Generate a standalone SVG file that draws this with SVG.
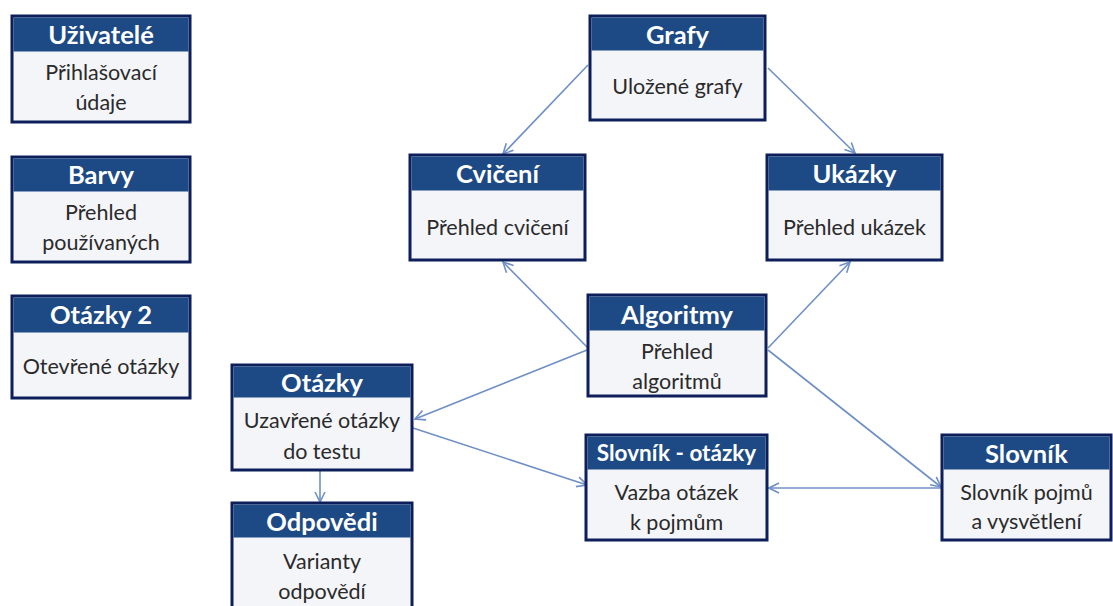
<svg xmlns="http://www.w3.org/2000/svg" width="1113" height="606" viewBox="0 0 1113 606">
  <style>
    .box { fill: #f4f5f9; stroke: #0d1e5a; stroke-width: 3; }
    .hdr { fill: #1d4a85; }
    .title { font-family: Lato, "Open Sans", "Noto Sans", sans-serif; font-weight: bold; font-size: 25.5px; fill: #ffffff; text-anchor: middle; }
    .title.small { font-size: 22.5px; }
    .body { font-family: Lato, "Open Sans", "Noto Sans", sans-serif; font-size: 21.5px; fill: #2a2a2a; text-anchor: middle; }
    .link { fill: none; stroke: #6f8fc8; stroke-width: 1.6; }
  </style>
  <defs>
    <marker id="arrow" viewBox="0 0 12 12" refX="11" refY="6" markerWidth="12" markerHeight="12" markerUnits="userSpaceOnUse" orient="auto">
      <path d="M1,1 L11,6 L1,11" fill="none" stroke="#6f8fc8" stroke-width="1.6"/>
    </marker>
  </defs>
  <rect width="1113" height="606" fill="#ffffff"/>

  <g id="connectors">
    <line class="link" x1="588" y1="65" x2="503" y2="154" marker-end="url(#arrow)"/>
    <line class="link" x1="768" y1="68" x2="855" y2="153" marker-end="url(#arrow)"/>
    <line class="link" x1="588" y1="348" x2="503" y2="262" marker-end="url(#arrow)"/>
    <line class="link" x1="768" y1="348" x2="850" y2="262" marker-end="url(#arrow)"/>
    <line class="link" x1="587" y1="350" x2="415" y2="419" marker-end="url(#arrow)"/>
    <line class="link" x1="413" y1="428" x2="587" y2="485" marker-end="url(#arrow)"/>
    <line class="link" x1="768" y1="350" x2="941" y2="487" marker-end="url(#arrow)"/>
    <line class="link" x1="941" y1="488" x2="769" y2="488" marker-end="url(#arrow)"/>
    <line class="link" x1="320" y1="471" x2="320" y2="502" marker-end="url(#arrow)"/>
  </g>

  <g id="uzivatele">
    <rect class="box" x="12" y="16" width="178" height="106"/>
    <rect class="hdr" x="13.5" y="17.5" width="175" height="34"/>
    <text class="title" x="101" y="44">Uživatelé</text>
    <text class="body" x="101" y="80">Přihlašovací</text>
    <text class="body" x="101" y="110">údaje</text>
  </g>

  <g id="barvy">
    <rect class="box" x="12" y="157" width="178" height="105"/>
    <rect class="hdr" x="13.5" y="158.5" width="175" height="33"/>
    <text class="title" x="101" y="184">Barvy</text>
    <text class="body" x="101" y="220">Přehled</text>
    <text class="body" x="101" y="250">používaných</text>
  </g>

  <g id="otazky2">
    <rect class="box" x="12" y="296" width="178" height="102"/>
    <rect class="hdr" x="13.5" y="297.5" width="175" height="35"/>
    <text class="title" x="101" y="324">Otázky 2</text>
    <text class="body" x="101" y="374">Otevřené otázky</text>
  </g>

  <g id="grafy">
    <rect class="box" x="590" y="16" width="175" height="104"/>
    <rect class="hdr" x="591.5" y="17.5" width="172" height="33"/>
    <text class="title" x="677.5" y="44">Grafy</text>
    <text class="body" x="677.5" y="94">Uložené grafy</text>
  </g>

  <g id="cviceni">
    <rect class="box" x="410" y="155" width="175" height="105"/>
    <rect class="hdr" x="411.5" y="156.5" width="172" height="34"/>
    <text class="title" x="497.5" y="183">Cvičení</text>
    <text class="body" x="497.5" y="235">Přehled cvičení</text>
  </g>

  <g id="ukazky">
    <rect class="box" x="767" y="155" width="175" height="105"/>
    <rect class="hdr" x="768.5" y="156.5" width="172" height="34"/>
    <text class="title" x="854.5" y="183">Ukázky</text>
    <text class="body" x="854.5" y="235">Přehled ukázek</text>
  </g>

  <g id="algoritmy">
    <rect class="box" x="588" y="295" width="178" height="101"/>
    <rect class="hdr" x="589.5" y="296.5" width="175" height="34"/>
    <text class="title" x="677" y="324">Algoritmy</text>
    <text class="body" x="677" y="359">Přehled</text>
    <text class="body" x="677" y="389">algoritmů</text>
  </g>

  <g id="otazky">
    <rect class="box" x="232" y="365" width="180" height="105"/>
    <rect class="hdr" x="233.5" y="366.5" width="177" height="31"/>
    <text class="title" x="322" y="392">Otázky</text>
    <text class="body" x="322" y="428">Uzavřené otázky</text>
    <text class="body" x="322" y="459">do testu</text>
  </g>

  <g id="odpovedi">
    <rect class="box" x="232" y="503" width="180" height="110"/>
    <rect class="hdr" x="233.5" y="504.5" width="177" height="33"/>
    <text class="title" x="322" y="531">Odpovědi</text>
    <text class="body" x="322" y="569">Varianty</text>
    <text class="body" x="322" y="599">odpovědí</text>
  </g>

  <g id="slovnik-otazky">
    <rect class="box" x="586" y="435" width="181" height="105"/>
    <rect class="hdr" x="587.5" y="436.5" width="178" height="33"/>
    <text class="title small" x="676.5" y="461">Slovník - otázky</text>
    <text class="body" x="676.5" y="500">Vazba otázek</text>
    <text class="body" x="676.5" y="530">k pojmům</text>
  </g>

  <g id="slovnik">
    <rect class="box" x="942" y="435" width="169" height="105"/>
    <rect class="hdr" x="943.5" y="436.5" width="166" height="33"/>
    <text class="title" x="1026.5" y="463">Slovník</text>
    <text class="body" x="1026.5" y="500">Slovník pojmů</text>
    <text class="body" x="1026.5" y="529">a vysvětlení</text>
  </g>
</svg>
